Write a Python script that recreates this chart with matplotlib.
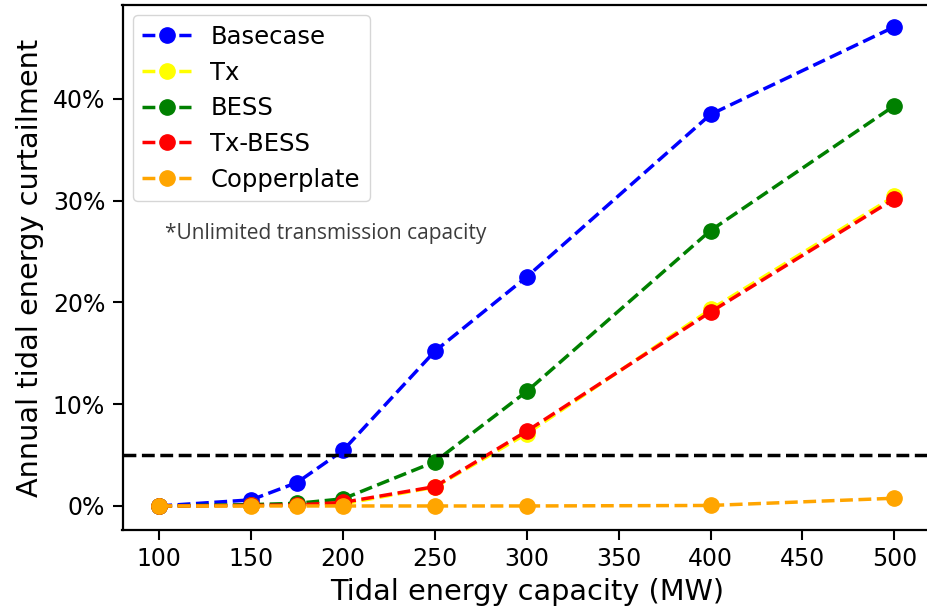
import matplotlib
matplotlib.use("Agg")
import matplotlib.pyplot as plt
from matplotlib.ticker import PercentFormatter

capacity = [100, 150, 175, 200, 250, 300, 400, 500]
basecase = [0.0, 0.6, 2.3, 5.45, 15.2, 22.5, 38.45, 47.05]
tx = [0.0, 0.05, 0.1, 0.2, 1.85, 7.1, 19.3, 30.4]
bess = [0.0, 0.13, 0.26, 0.7, 4.34, 11.25, 27.05, 39.3]
tx_bess = [0.0, 0.05, 0.1, 0.35, 1.9, 7.35, 19.05, 30.15]
copperplate = [0.0, 0.0, 0.0, 0.0, 0.0, 0.0, 0.05, 0.76]
threshold = 5.0

series = [
    ("Basecase", basecase, "blue"),
    ("Tx", tx, "yellow"),
    ("BESS", bess, "green"),
    ("Tx-BESS", tx_bess, "red"),
    ("Copperplate", copperplate, "orange"),
]

W, H = 927, 609
fig = plt.figure(figsize=(W / 100, H / 100), dpi=100)
ax = fig.add_axes([122.5 / W, (H - 530) / H, (931 - 122.5) / W, (530 - 5) / H])

for name, vals, col in series:
    ax.plot(capacity, vals, linestyle="--", marker="o", color=col,
            markersize=11, linewidth=2.5, label=name)

ax.axhline(threshold, color="black", linestyle="--", linewidth=2.5)

ax.set_xlim(80, 520)
ax.set_ylim(-2.36, 49.2)
ax.set_xticks([100, 150, 200, 250, 300, 350, 400, 450, 500])
ax.set_yticks([0, 10, 20, 30, 40])
ax.yaxis.set_major_formatter(PercentFormatter(100, decimals=0))
ax.tick_params(labelsize=17, length=7.5, width=1.5, pad=5)
for s in ax.spines.values():
    s.set_linewidth(1.6)

ax.set_xlabel("Tidal energy capacity (MW)", fontsize=20.7, labelpad=5)
ax.set_ylabel("Annual tidal energy curtailment", fontsize=20.7, labelpad=6)

ax.legend(loc="upper left", fontsize=17.5, handlelength=2.0, borderaxespad=0.42,
          labelspacing=0.48, handletextpad=0.8)

ax.text(0.052, 0.565, "*Unlimited transmission capacity", transform=ax.transAxes,
        fontsize=15, color="#3c3c3c", family="Open Sans", va="center")

fig.savefig("out.png", dpi=100)
